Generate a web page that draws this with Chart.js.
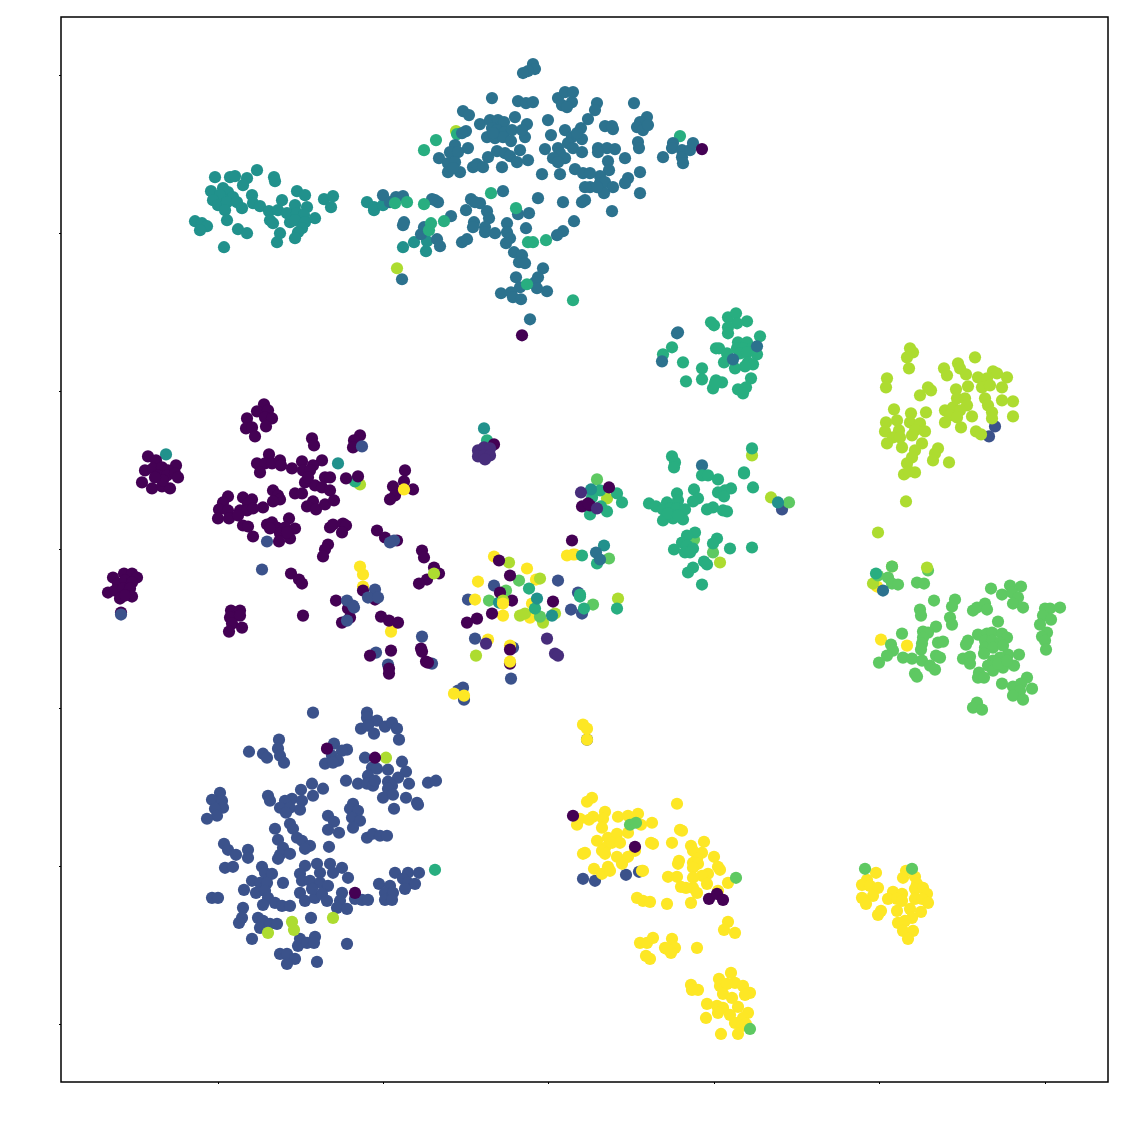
<!DOCTYPE html>
<html>
<head>
<meta charset="utf-8">
<title>Scatter</title>
<script src="https://cdn.jsdelivr.net/npm/chart.js@4"></script>
<style>
  html, body { margin: 0; padding: 0; background: #fff; }
  canvas { display: block; }
</style>
</head>
<body>
<canvas id="scatter" width="1125" height="1125"></canvas>
<script>
// Axis ticks (the original has no tick labels, so the units are arbitrary)
const xTicks = [-330, -165, 0, 166, 331, 497];
const yTicks = [-475, -317, -159, 0, 158, 316, 474];

// Points per class as [x, y]
const class0 = [[154,400],[-26,214],[-400,93],[-392,89],[-372,84],[-403,79],[-395,81],[-386,82],[-380,79],[-390,74],[-381,74],[-373,76],[-370,72],[-406,67],[-396,61],[-386,63],[-378,61],[-385,69],[-393,72],
  [-284,145],[-291,138],[-280,139],[-283,132],[-276,131],[-301,131],[-282,123],[-302,121],[-296,122],[-293,113],[-236,111],[-234,104],[-188,114],[-194,109],[-195,102],
  [-143,79],[-144,68],[-155,63],[-135,60],[-153,54],[-158,50],[-279,95],[-291,86],[-283,86],[-288,77],[-276,86],[-268,89],[-267,84],[-256,81],
  [-246,88],[-226,89],[-235,84],[-245,79],[-238,79],[-243,67],[-233,64],[-223,72],[-218,72],[-226,62],[-218,59],[-240,72],[-202,71],[-190,73],
  [-275,59],[-270,54],[-268,50],[-275,48],[-285,42],[-253,56],[-246,56],[-235,48],[-241,43],[-232,40],[-223,45],[-214,49],
  [-320,53],[-325,47],[-329,40],[-320,39],[-330,31],[-319,31],[-305,52],[-296,50],[-300,46],[-308,39],[-301,39],[-310,34],[-295,41],[-305,24],[-300,23],[-295,13],
  [-281,25],[-276,27],[-259,31],[-271,22],[-263,22],[-253,21],[-268,16],[-258,11],[-269,8],[-278,21],[-261,17],
  [-218,22],[-215,25],[-205,26],[-202,24],[-206,17],[-220,5],[-223,0],[-225,-7],[-257,-24],[-249,-30],[-246,-34],[-245,-66],
  [-435,-28],[-424,-24],[-416,-24],[-411,-28],[-430,-34],[-423,-31],[-416,-33],[-440,-43],[-433,-41],[-425,-39],[-418,-39],[-428,-49],[-416,-47],[-423,-46],[-427,-63],
  [-317,-61],[-308,-61],[-318,-68],[-308,-66],[-316,-74],[-306,-78],[-319,-82],
  [-49,-11],[-38,-26],[24,9],[-48,-43],[-36,-51],[5,-52],[-56,-64],[-71,-69],[-81,-73],[-38,-100],[-38,-114],[34,43],[42,44],[61,62],[40,46],
  [-212,-51],[-171,19],[-163,12],[-151,9],[-126,-1],[-124,-8],[-114,-18],[-109,-24],[-121,-30],[-129,-34],[-185,-41],[-173,-50],[-200,-59],[-198,-68],[-206,-73],
  [-167,-67],[-159,-71],[-150,-73],[-178,-106],[-157,-101],[-127,-99],[-126,-102],[-122,-112],[-120,-113],[-159,-119],[-159,-124],
  [-221,-199],[-173,-208],[-193,-343],[25,-266],[87,-297],[161,-349],[169,-344],[175,-350],[-54,105]];

const class1 = [[-62,-94],[-1,-89],[7,-104],[10,-106],[33,57],[49,41],[-70,99],[-64,102],[-58,101],[-70,93],[-64,94],[-58,94],[-63,90]];

const class2 = [[447,123],[441,113],[234,40],[30,-43],[-54,-36],[-80,-50],[10,-31],[23,-60],[34,-64],[-73,-89],[-35,-98],[-37,-129],[-126,-87],[-172,-103],[-160,-115],[-116,-114],[-90,-141],[-85,-138],[-84,-150],[-181,-163],
  [39,-190],[35,-329],[47,-331],[78,-325],[91,-322],
  [-235,-163],[-181,-168],[-171,-171],[-163,-177],[-156,-173],[-151,-179],[-187,-179],[-180,-176],[-174,-184],[-149,-190],
  [-299,-202],[-285,-204],[-281,-208],[-269,-190],[-270,-199],[-268,-206],[-264,-213],[-214,-194],[-201,-200],[-206,-201],[-216,-206],[-223,-214],[-210,-211],[-215,-213],[-183,-208],[-146,-212],
  [-176,-218],[-171,-219],[-160,-220],[-142,-222],[-150,-228],[-180,-226],[-190,-234],[-181,-234],[-175,-236],[-173,-231],[-160,-232],[-156,-236],[-160,-239],[-165,-248],[-155,-245],[-139,-234],[-142,-248],[-131,-253],[-130,-255],[-154,-259],[-202,-231],[-120,-233],[-112,-231],
  [-328,-243],[-336,-250],[-326,-251],[-325,-258],[-333,-259],[-331,-266],[-341,-269],[-280,-246],[-278,-251],
  [-236,-234],[-247,-240],[-225,-239],[-235,-246],[-256,-249],[-246,-251],[-263,-251],[-268,-258],[-258,-258],[-262,-263],[-248,-260],
  [-195,-254],[-198,-259],[-190,-261],[-196,-268],[-188,-271],[-195,-278],[-220,-266],[-214,-272],[-220,-280],[-209,-283],
  [-273,-279],[-258,-274],[-255,-279],[-270,-290],[-251,-288],[-246,-291],[-238,-296],[-243,-299],[-181,-288],[-175,-284],[-168,-286],[-161,-286],[-219,-297],
  [-324,-294],[-320,-300],[-312,-305],[-300,-300],[-300,-308],[-265,-298],[-268,-305],[-258,-304],[-270,-309],[-323,-318],[-315,-317],
  [-286,-317],[-283,-323],[-276,-324],[-296,-331],[-288,-333],[-281,-333],[-304,-340],[-292,-343],[-283,-341],[-280,-348],[-285,-355],[-265,-333],[-273,-353],[-266,-356],[-258,-356],[-336,-348],[-330,-348],
  [-305,-358],[-306,-368],[-309,-373],[-290,-368],[-285,-371],[-288,-378],[-278,-374],[-271,-374],[-296,-389],
  [-243,-316],[-248,-324],[-231,-314],[-228,-323],[-218,-314],[-215,-323],[-206,-318],[-200,-328],[-246,-331],[-238,-331],[-228,-333],[-220,-336],[-248,-343],[-243,-351],[-233,-348],[-226,-344],[-221,-351],[-236,-339],
  [-206,-343],[-208,-351],[-211,-358],[-201,-359],[-193,-349],[-186,-350],[-180,-350],
  [-169,-334],[-153,-323],[-158,-336],[-163,-343],[-155,-343],[-163,-350],[-156,-350],[-140,-323],[-145,-329],[-140,-333],[-133,-334],[-143,-339],[-129,-323],
  [-237,-368],[-248,-389],[-250,-396],[-241,-393],[-233,-387],[-234,-393],[-268,-404],[-261,-404],[-253,-409],[-261,-414],[-231,-412],[-201,-394]];

const class2Top = [[-427,-65],[-186,103],[-281,8],[-286,-20],[-173,-40],[-180,-48],[-170,-48],[-201,-51],[-195,-56],[-194,-58],[-201,-71],[-154,9],[-158,7]];

const class3 = [[-15,485],[-13,480],[-20,478],[-25,476],[-56,451],[-30,448],[-22,446],[-15,447],[10,451],[17,457],[25,457],[24,447],[14,444],[19,442],[49,446],[47,439],[86,446],
  [-85,438],[-79,434],[-68,425],[-58,429],[-50,429],[-44,427],[-56,421],[-51,419],[-43,417],[-36,419],[-61,412],[-53,411],[-45,412],[-37,408],[-33,432],[-21,425],[-23,412],[-26,419],[-55,416],
  [0,429],[3,414],[40,430],[17,419],[33,421],[24,412],[34,410],[20,406],[25,401],[34,397],[29,416],[57,423],[65,420],[64,423],[99,432],[92,427],[89,422],[95,419],[100,424],
  [-82,418],[-86,416],[-80,401],[-93,404],[-98,397],[-90,397],[-109,391],[-100,386],[-93,387],[-100,377],[-88,377],[-95,381],[-75,382],[-71,385],[-65,382],
  [-60,392],[-51,398],[-43,396],[-38,393],[-28,399],[-31,387],[-20,389],[-46,382],[-3,400],[10,401],[12,396],[5,391],[17,391],[10,387],
  [50,401],[59,401],[67,400],[50,397],[77,391],[90,407],[91,401],[60,388],[61,379],[52,373],[27,380],[35,376],[42,376],[-6,375],[12,375],[92,377],[80,371],[77,366],
  [42,362],[52,366],[57,367],[65,362],[56,356],[49,362],[37,362],[92,356],[37,349],[34,347],[64,338],[-10,351],[15,347],[26,328],[15,318],[9,314],
  [-45,358],[-77,350],[-68,346],[-73,347],[-82,339],[-61,338],[-59,331],[-97,333],[-30,335],[-19,336],[-22,321],[-74,327],[-75,322],[-63,322],[-63,317],[-53,316],
  [-41,326],[-41,317],[-38,311],[-42,306],[-86,307],[-81,310],[-34,297],[-26,294],[-29,287],[-23,286],[-5,281],[-10,272],[-13,267],[-11,261],[-1,258],
  [-32,272],[-28,262],[-37,257],[-47,256],[-35,252],[-27,250],[-18,230],[-113,349],[-110,347],[-116,350],[-165,354],[-152,352],[-145,353],[-158,347],[-144,327],[-145,324],
  [-124,322],[-127,315],[-111,310],[-108,303],[-146,270],[125,406],[124,401],[115,392],[134,399],[134,392],[135,386],[142,399],[145,406],
  [129,216],[130,217],[114,188],[185,190],[209,203],[154,84],[48,-3],[52,-10],[335,-41]];

const class4 = [[-333,372],[-318,372],[-313,373],[-291,379],[-274,372],[-273,368],[-301,371],[-305,364],[-337,358],[-325,361],[-320,357],[-328,354],[-315,352],[-335,349],[-330,344],[-321,347],[-311,347],[-306,341],[-296,354],[-295,346],[-288,343],[-323,339],[-321,329],[-353,328],[-346,326],[-341,323],[-348,319],[-310,320],[-301,316],[-324,302],
  [-251,358],[-243,354],[-266,349],[-253,344],[-241,342],[-279,338],[-270,339],[-261,336],[-251,336],[-244,334],[-233,331],[-278,329],[-275,326],[-258,327],[-253,329],[-243,327],[-246,321],[-250,317],[-253,311],[-268,316],[-271,307],
  [-224,350],[-215,353],[-217,342],[-181,347],[-174,342],[-174,339],[-165,344],[-145,302],[-134,307],[-122,298],[-121,308],
  [-382,95],[-210,86],[-64,121],[43,60],[56,4],[230,47],[-11,-49],[4,-66],[-49,-53]];

const class5 = [[163,227],[166,224],[180,232],[188,236],[199,228],[189,226],[180,222],[180,216],[124,202],[115,195],[135,187],[138,168],[154,181],[154,170],[168,201],[171,201],[212,213],
  [190,207],[199,207],[189,201],[195,201],[204,201],[192,196],[199,197],[179,196],[176,187],[187,181],[209,195],[200,187],[205,185],[197,183],[203,171],[168,169],[174,167],[165,161],[167,166],[190,160],[198,162],[195,156],
  [204,101],[124,93],[127,87],[126,82],[170,70],[196,77],[196,76],[205,62],[146,60],[183,61],[170,57],[177,59],[176,53],[150,51],[145,48],[129,56],[101,46],[108,43],
  [119,47],[130,49],[115,40],[122,41],[129,41],[137,40],[115,29],[125,31],[135,30],[120,36],[130,34],[159,40],[165,42],[175,39],[179,38],
  [147,17],[139,14],[134,7],[139,4],[145,1],[137,-3],[126,0],[142,-3],[169,11],[165,6],[182,1],[204,2],[156,-12],[159,-15],[145,-18],[140,-23],[154,-35],
  [52,59],[44,52],[69,56],[74,47],[53,43],[59,38],[42,35],[34,-6],[49,-14],[32,-45],[-19,-39],[32,-47],[36,-59],[69,-59],[-13,-59],
  [-113,-320],[-193,68],[328,-24],[-61,109],[-112,409],[-124,399],[-91,415],[132,413],[-57,356],[-20,307],[-15,307],[-2,309],[25,249]];

const class5Top = [[-153,346],[-141,347],[-124,345],[-104,328],[-117,326],[-119,319],[-32,341],[-21,265],[154,74],[160,74]];

const class6 = [[146,10],[165,-3],[241,47],[49,70],[61,-9],[-29,-31],[-42,-41],[-59,-51],[-8,-67],[45,-55],[344,-17],[380,-21],
  [330,-26],[340,-28],[344,-34],[350,-35],[369,-33],[376,-34],[386,-51],[407,-50],[404,-57],[372,-60],[373,-66],[402,-68],[404,-75],
  [443,-39],[425,-61],[429,-58],[437,-54],[439,-60],[462,-36],[473,-37],[454,-45],[464,-43],[470,-48],[465,-54],[475,-58],
  [497,-59],[502,-59],[512,-58],[495,-66],[503,-70],[492,-75],[450,-72],[499,-83],[494,-87],[497,-91],[498,-100],
  [388,-77],[375,-82],[380,-83],[375,-88],[374,-94],[373,-100],[354,-84],[390,-93],[395,-92],[343,-95],[345,-101],[339,-106],[331,-113],
  [355,-108],[364,-109],[374,-111],[382,-116],[387,-120],[388,-106],[392,-108],[367,-124],[369,-127],
  [420,-91],[418,-95],[430,-85],[439,-84],[444,-83],[454,-84],[459,-88],[437,-91],[444,-91],[452,-93],[437,-98],[445,-98],[436,-104],[455,-96],[415,-109],[422,-107],[422,-114],
  [471,-105],[460,-105],[452,-108],[445,-111],[440,-116],[445,-121],[455,-118],[466,-116],[450,-114],[459,-111],[431,-123],[430,-128],[436,-128],[454,-134],
  [479,-128],[465,-137],[473,-134],[484,-139],[472,-141],[465,-146],[475,-150],[429,-153],[425,-158],[434,-160],
  [202,-479],[188,-328],[82,-275],[88,-273],[317,-319],[364,-319]];

const class7 = [[362,201],[365,197],[359,192],[361,181],[339,171],[338,162],[427,192],[396,181],[399,174],[410,186],[412,181],[418,175],[380,162],[372,154],[383,159],
  [420,163],[430,172],[445,178],[449,176],[439,171],[459,172],[434,162],[442,164],[454,162],[437,151],[440,144],[444,137],[444,131],[454,149],[465,148],[465,133],
  [408,160],[409,151],[417,151],[419,144],[397,139],[405,142],[412,139],[402,134],[409,132],[424,133],[397,127],[413,122],[428,118],[433,115],
  [346,140],[378,137],[363,136],[338,127],[349,129],[337,118],[362,127],[372,126],[351,119],[367,119],[377,118],[345,112],[352,112],[364,114],[339,106],[354,102],
  [374,106],[367,99],[364,92],[359,86],[367,77],[356,75],[361,78],[390,101],[387,96],[385,89],[401,87],[358,48],
  [330,17],[344,-17],[325,-34],[-92,418],[-151,281],[-188,65],[204,94],[172,-13],[223,52],[59,51],[70,-49],[-39,-13],[-8,-29],[-28,-66],[-23,-64],[-5,-73],[-72,-106],[7,-64],
  [-162,-208],[-280,-383],[-256,-372],[-254,-380],[-215,-368]];

const class7Top = [[379,-18],[-114,-24],[-45,-51]];

const class8 = [[-54,-7],[-21,-19],[-70,-32],[-12,-30],[-73,-50],[-16,-54],[-45,-66],[-18,-68],[19,-6],[27,-5],[25,-5],[-60,-90],[-38,-96],[-94,-144],[-84,-146],
  [-188,-17],[-185,-25],[-185,-37],[-155,-75],[-157,-82],[333,-90],[359,-96],[329,-37],
  [35,-175],[39,-179],[39,-190],[44,-248],[39,-252],[57,-262],[45,-267],[32,-269],[29,-275],[41,-270],[55,-269],[54,-278],[70,-267],[80,-266],[90,-264],[93,-275],[104,-273],[129,-254],[132,-280],[134,-281],
  [49,-291],[60,-288],[69,-284],[80,-283],[57,-298],[64,-293],[72,-293],[54,-301],[57,-304],[37,-303],[35,-304],[69,-307],[80,-307],[87,-301],[74,-314],[60,-317],[46,-319],[54,-324],[62,-321],[94,-321],[95,-321],
  [103,-293],[105,-294],[124,-293],[131,-311],[130,-314],[143,-296],[145,-301],[154,-303],[149,-309],[145,-313],[150,-314],[145,-318],[156,-292],[166,-307],[170,-317],[172,-320],[160,-324],[154,-326],[145,-328],[159,-334],[145,-338],[138,-338],[133,-337],[149,-343],[120,-327],[129,-327],[180,-333],
  [170,-341],[89,-348],[95,-351],[102,-352],[119,-354],[143,-353],[180,-372],[176,-380],[187,-383],[92,-393],[99,-393],[105,-388],[98,-406],[102,-409],[117,-398],[124,-389],[127,-398],[123,-403],[119,-399],[149,-398],
  [143,-435],[150,-440],[144,-440],[171,-429],[183,-423],[187,-433],[172,-436],[179,-434],[195,-436],[202,-443],[175,-444],[184,-448],[197,-445],[159,-454],[169,-456],[175,-458],[170,-463],[190,-457],[182,-465],[158,-468],[200,-463],[195,-468],[187,-473],[194,-476],[173,-484],[190,-484],[198,-474],
  [328,-323],[319,-330],[314,-335],[322,-336],[330,-338],[325,-346],[314,-348],[318,-354],[333,-361],[330,-365],[358,-321],[355,-328],[367,-327],[369,-334],[367,-339],[375,-338],[379,-344],[367,-349],[374,-349],[380,-353],[373,-362],[362,-359],[364,-368],
  [345,-342],[354,-344],[340,-349],[349,-349],[354,-351],[349,-361],[350,-373],[357,-371],[355,-381],[365,-381],[360,-389]];

const class8Top = [[-144,60],[-38,-112],[-45,-54]];

const viridis = ['#440154', '#472d7b', '#3b528b', '#2c728e', '#21918c', '#28ae80', '#5ec962', '#addc30', '#fde725'];

// Draw order, bottom layer first
const layers = [
  [class2, viridis[2]], [class8, viridis[8]], [class7, viridis[7]], [class6, viridis[6]], [class5, viridis[5]],
  [class4, viridis[4]], [class3, viridis[3]], [class0, viridis[0]], [class1, viridis[1]],
  [class2Top, viridis[2]], [class5Top, viridis[5]], [class7Top, viridis[7]], [class8Top, viridis[8]]
];

// Chart.js paints dataset 0 last, so flip the layers
const datasets = layers.map(([pts, color]) => ({
  data: pts.map(([x, y]) => ({ x, y })),
  backgroundColor: color,
  borderWidth: 0,
  pointRadius: 6.1
})).reverse();

// Outline on all four sides of the plot
const frame = {
  id: 'frame',
  afterDraw(chart) {
    const { ctx, chartArea: a } = chart;
    ctx.save();
    ctx.strokeStyle = '#000';
    ctx.lineWidth = 1.5;
    ctx.strokeRect(a.left, a.top, a.right - a.left, a.bottom - a.top);
    ctx.restore();
  }
};

function axis(position, min, max, values) {
  return {
    type: 'linear',
    position,
    min,
    max,
    afterBuildTicks: scale => { scale.ticks = values.map(value => ({ value })); },
    ticks: { display: false },
    border: { display: false },
    grid: { drawOnChartArea: false, drawTicks: true, tickLength: 2, tickWidth: 1, tickColor: '#000' }
  };
}

new Chart(document.getElementById('scatter').getContext('2d'), {
  type: 'scatter',
  data: { datasets },
  options: {
    responsive: false,
    animation: false,
    layout: { padding: { left: 59, top: 17, right: 17, bottom: 41 } },
    plugins: { legend: { display: false }, tooltip: { enabled: false } },
    scales: {
      x: axis('bottom', -487, 560, xTicks),
      y: axis('left', -532, 532, yTicks)
    }
  },
  plugins: [frame]
});
</script>
</body>
</html>
